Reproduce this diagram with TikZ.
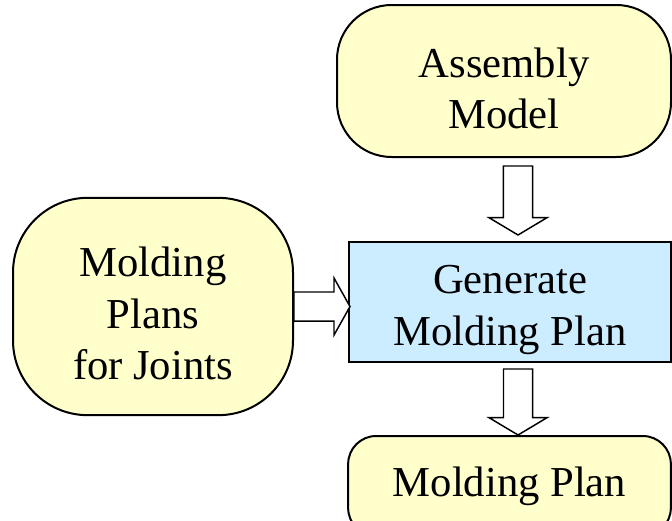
\documentclass[tikz,border=0pt]{standalone}
\usepackage{fontspec}
\setmainfont{Liberation Serif}
\usetikzlibrary{calc}

\definecolor{termfill}{HTML}{FFFFCC}
\definecolor{procfill}{HTML}{CCECFF}
\newcommand{\tallrow}{\rule{0pt}{33pt}}

\begin{document}
\begin{tikzpicture}[x = 0.75pt, y = -0.75pt,
        term/.style = {shape = rectangle, rounded corners = 41pt, draw = black, fill = termfill, line width = 1.5pt, align = center, font = \fontsize{32}{38.5}\selectfont, inner sep = 0pt},
        proc/.style = {shape = rectangle, draw = black, fill = procfill, line width = 1.5pt, align = center, font = \fontsize{32}{38.5}\selectfont, inner sep = 0pt},
        downblock/.style = {draw = black, fill = white, line width = 1.1pt, to path = {let \p1 = (\tikztostart), \p2 = (\tikztotarget) in (\x2-10.9pt,\y1) -- (\x2-10.9pt,\y2+13pt) -- (\x2-21.75pt,\y2+13pt) -- (\x2,\y2) -- (\x2+21.75pt,\y2+13pt) -- (\x2+10.9pt,\y2+13pt) -- (\x2+10.9pt,\y1) -- cycle}},
        rightblock/.style = {draw = black, fill = white, line width = 1.1pt, to path = {let \p1 = (\tikztostart), \p2 = (\tikztotarget) in (\x1,\y2+10.9pt) -- (\x2-12pt,\y2+10.9pt) -- (\x2-12pt,\y2+21.4pt) -- (\x2,\y2) -- (\x2-12pt,\y2-21.4pt) -- (\x2-12pt,\y2-10.9pt) -- (\x1,\y2-10.9pt) -- cycle}},
    ]
    \useasboundingbox (0,0) rectangle (672,521);
    \clip (0,0) rectangle (672,521);

    \node[term, minimum width = 250.5pt, minimum height = 114pt] (asm) at (504,81) {\tallrow Assembly\\Model};
    \node[proc, minimum width = 241.5pt, minimum height = 90pt] (gen) at (510,302) {\tallrow Generate\\Molding Plan};
    \node[term, rounded corners = 56pt, minimum width = 210pt, minimum height = 163pt] (joints) at (153,306.5) {\tallrow Molding\\Plans\\for Joints};
    \node[term, rounded corners = 21pt, minimum width = 242pt, minimum height = 75pt] (plan) at (509.5,486) {Molding Plan};

    \draw[downblock] ([yshift = -6pt]asm.south) to ([xshift = 6pt, yshift = 4.5pt]gen.north);
    \draw[downblock] ([yshift = -4.5pt]gen.south) to ([xshift = 6.4pt]plan.north);
    \draw[rightblock] (joints.east) to ([xshift = 1.5pt, yshift = -3.4pt]gen.west);
\end{tikzpicture}
\end{document}
